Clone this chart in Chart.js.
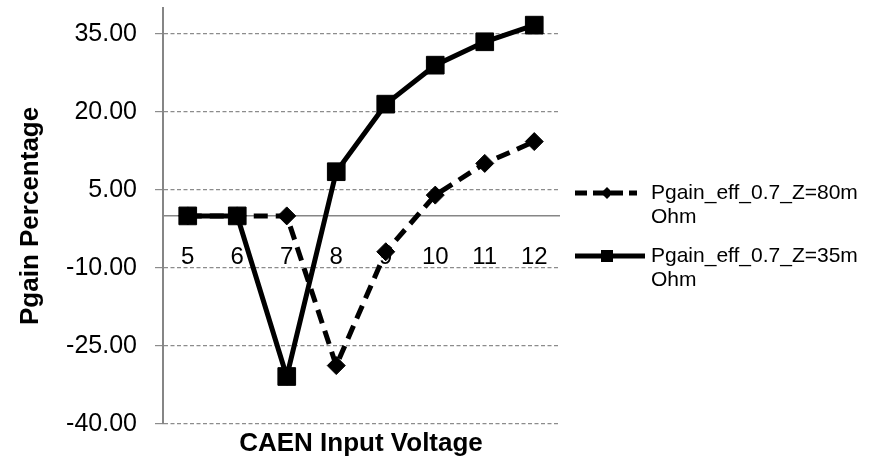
<!DOCTYPE html>
<html>
<head>
<meta charset="utf-8">
<script src="https://cdn.jsdelivr.net/npm/chart.js@4/dist/chart.umd.min.js"></script>
<style>
html,body{margin:0;padding:0;background:#fff;}
#wrap{width:877px;height:459px;position:relative;}
</style>
</head>
<body>
<div id="wrap"><canvas id="c" width="877" height="459"></canvas></div>
<script>
const categories = ['5', '6', '7', '8', '9', '10', '11', '12'];
const series80 = [0, 0, 0, -28.8, -6.9, 4.0, 10.1, 14.3];
const series35 = [0, 0, -30.9, 8.5, 21.5, 29.0, 33.5, 36.7];
const seriesNames = ['Pgain_eff_0.7_Z=80m Ohm', 'Pgain_eff_0.7_Z=35m Ohm'];
const legendLines = [['Pgain_eff_0.7_Z=80m', 'Ohm'], ['Pgain_eff_0.7_Z=35m', 'Ohm']];
const yMin = -40, yMax = 40, yStep = 15;
const xTitle = 'CAEN Input Voltage';
const yTitle = 'Pgain Percentage';

const FONT = '"Liberation Sans", Arial, Helvetica, sans-serif';

const legendPlugin = {
  id: 'sideLegend',
  afterDraw(chart) {
    const ctx = chart.ctx;
    const rows = [
      {y: 193, dash: [12, 6], style: 'diamond', lines: legendLines[0]},
      {y: 256, dash: [], style: 'square', lines: legendLines[1]}
    ];
    ctx.save();
    rows.forEach(r => {
      ctx.strokeStyle = '#000';
      ctx.lineWidth = 5;
      ctx.setLineDash(r.dash);
      ctx.beginPath();
      ctx.moveTo(575, r.y);
      ctx.lineTo(r.style === 'square' ? 645 : 637, r.y);
      ctx.stroke();
      ctx.setLineDash([]);
      ctx.fillStyle = '#000';
      const cx = 607;
      ctx.beginPath();
      if (r.style === 'square') {
        ctx.rect(cx - 6, r.y - 6, 12, 12);
      } else {
        ctx.moveTo(cx, r.y - 6); ctx.lineTo(cx + 6, r.y); ctx.lineTo(cx, r.y + 6); ctx.lineTo(cx - 6, r.y); ctx.closePath();
      }
      ctx.fill();
      ctx.font = '21px ' + FONT;
      ctx.textBaseline = 'middle';
      ctx.textAlign = 'left';
      ctx.fillStyle = '#000';
      r.lines.forEach((t, i) => ctx.fillText(t, 651, r.y + i * 24));
    });
    ctx.restore();
  }
};

const zeroPad = axis => { axis.paddingLeft = 0; axis.paddingRight = 0; axis.paddingTop = 0; axis.paddingBottom = 0; };

new Chart(document.getElementById('c'), {
  type: 'line',
  data: {
    labels: categories,
    datasets: [
      {
        label: seriesNames[0],
        data: series80,
        borderColor: '#000',
        backgroundColor: '#000',
        borderWidth: 5,
        borderDash: [14, 8],
        pointStyle: 'rectRot',
        pointRadius: 9,
        pointBorderWidth: 1,
        pointBackgroundColor: '#000',
        pointBorderColor: '#000',
        tension: 0,
        clip: false,
        xAxisID: 'x',
        yAxisID: 'y'
      },
      {
        label: seriesNames[1],
        data: series35,
        borderColor: '#000',
        backgroundColor: '#000',
        borderWidth: 5,
        pointStyle: 'rect',
        pointRadius: 12.5,
        pointBorderWidth: 1,
        pointBackgroundColor: '#000',
        pointBorderColor: '#000',
        tension: 0,
        clip: false,
        xAxisID: 'x',
        yAxisID: 'y'
      }
    ]
  },
  options: {
    responsive: false,
    animation: false,
    layout: {autoPadding: false, padding: {top: 8, right: 318, bottom: 0, left: 0}},
    plugins: {
      legend: {display: false},
      tooltip: {enabled: false}
    },
    scales: {
      x: {
        type: 'category',
        position: {y: 0},
        offset: true,
        grid: {display: false, drawTicks: false},
        border: {display: true, color: '#868686', width: 1.5},
        ticks: {color: '#000', padding: 27, font: {family: FONT, size: 24}, maxRotation: 0, autoSkip: false},
        afterFit: zeroPad
      },
      x2: {
        type: 'category',
        labels: categories,
        position: 'bottom',
        offset: true,
        grid: {display: false, drawTicks: false},
        border: {display: false},
        ticks: {display: false},
        title: {display: true, text: xTitle, color: '#000', font: {family: FONT, size: 26, weight: 'bold'}, padding: {top: 4, bottom: 0}},
        afterFit: zeroPad
      },
      y: {
        type: 'linear',
        position: 'left',
        min: yMin,
        max: yMax,
        afterBuildTicks(axis) {
          const t = [];
          for (let v = yMin; v < yMax; v += yStep) t.push({value: v});
          axis.ticks = t;
        },
        afterFit(axis) { axis.width = 163; zeroPad(axis); },
        grid: {color: '#8c8c8c', lineWidth: 1.2, tickLength: 8, drawTicks: true},
        border: {display: true, color: '#868686', width: 2, dash: [4, 2.5]},
        ticks: {
          color: '#000',
          padding: 18,
          font: {family: FONT, size: 25},
          callback: v => Number(v).toFixed(2)
        },
        title: {display: true, text: yTitle, color: '#000', font: {family: FONT, size: 26, weight: 'bold'}, padding: {top: 15, bottom: 0}}
      }
    }
  },
  plugins: [legendPlugin]
});
</script>
</body>
</html>
